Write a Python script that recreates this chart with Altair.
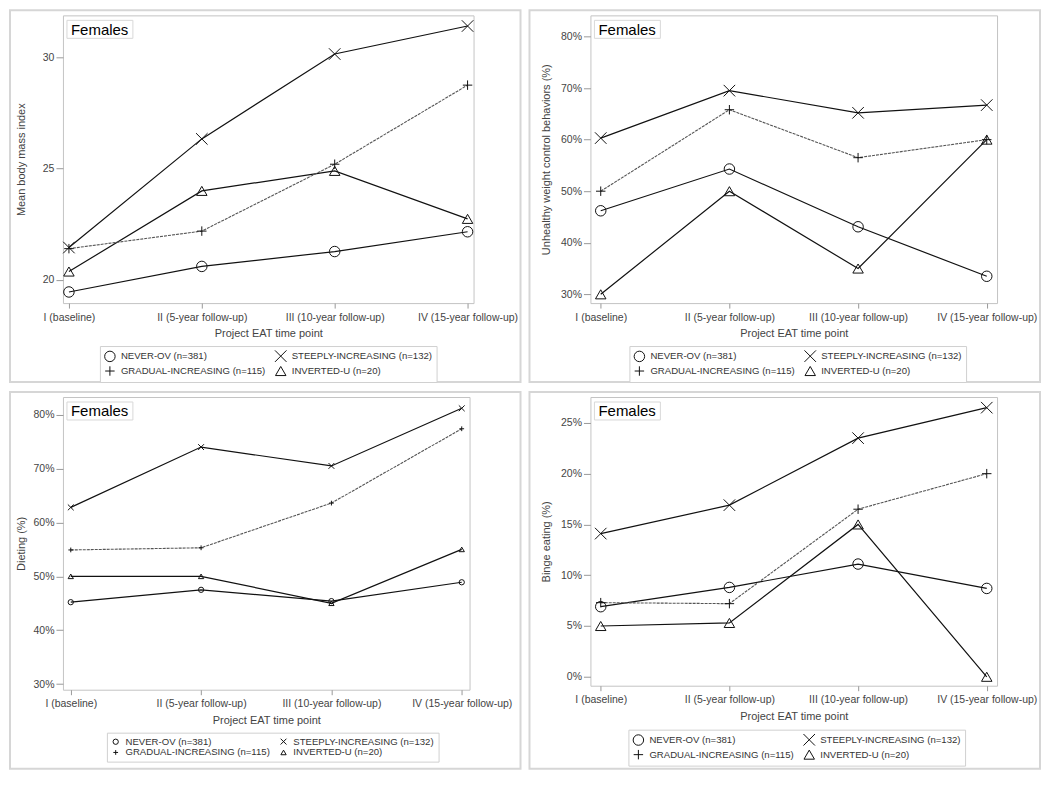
import altair as alt
import pandas as pd

# ---------------- data ----------------
timepoints = ["I (baseline)", "II (5-year follow-up)", "III (10-year follow-up)", "IV (15-year follow-up)"]
groups = ["NEVER-OV (n=381)", "GRADUAL-INCREASING (n=115)", "STEEPLY-INCREASING (n=132)", "INVERTED-U (n=20)"]

bmi_never = [19.45, 20.6, 21.27, 22.16]
bmi_grad = [21.4, 22.19, 25.2, 28.76]
bmi_steep = [21.45, 26.34, 30.16, 31.42]
bmi_invu = [20.37, 24.0, 24.9, 22.74]

uwcb_never = [46.2, 54.3, 43.1, 33.5]
uwcb_grad = [50.0, 65.8, 56.5, 60.0]
uwcb_steep = [60.3, 69.5, 65.2, 66.7]
uwcb_invu = [30.0, 50.0, 35.0, 60.0]

diet_never = [45.2, 47.5, 45.4, 48.9]
diet_grad = [54.9, 55.3, 63.6, 77.4]
diet_steep = [62.8, 74.0, 70.5, 81.2]
diet_invu = [50.0, 50.0, 45.0, 55.0]

binge_never = [6.9, 8.8, 11.1, 8.7]
binge_grad = [7.3, 7.2, 16.5, 20.0]
binge_steep = [14.1, 16.9, 23.5, 26.5]
binge_invu = [5.0, 5.3, 15.0, 0.0]

bmi_ticks = [20, 25, 30]
uwcb_ticks = [30, 40, 50, 60, 70, 80]
diet_ticks = [30, 40, 50, 60, 70, 80]
binge_ticks = [0, 5, 10, 15, 20, 25]

x_title = "Project EAT time point"
panel_label = "Females"

shape_paths = ["circle", "M-0.9,0L0.9,0M0,-0.9L0,0.9",
               "M-1.1,-1.1L1.1,1.1M-1.1,1.1L1.1,-1.1", "triangle-up"]

FONT = "Liberation Sans"
DOTTED_GROUP = groups[1]


def frame(series):
    rows = []
    for g, vals in zip(groups, series):
        for i, (t, v) in enumerate(zip(timepoints, vals)):
            rows.append({"group": g, "time": t, "value": v, "order": i})
    return pd.DataFrame(rows)


def panel(series, ydomain, yticks, ytitle, pct, xpad, w, h, border, legxy, msize, ytp):
    df = frame(series)
    xenc = alt.X("time:N", sort=timepoints,
                 scale=alt.Scale(type="point", padding=xpad),
                 axis=alt.Axis(title=x_title, labelAngle=0, tickSize=5,
                               labelPadding=4, titlePadding=5))
    if pct:
        yaxis = alt.Axis(title=ytitle, values=yticks, tickSize=7, labelPadding=2,
                         titlePadding=ytp, labelExpr="datum.value + '%'")
    else:
        yaxis = alt.Axis(title=ytitle, values=yticks, tickSize=7, labelPadding=2,
                         titlePadding=ytp)
    yenc = alt.Y("value:Q", scale=alt.Scale(domain=ydomain, nice=False, zero=False),
                 axis=yaxis)

    base = alt.Chart(df)
    solid = base.transform_filter(
        alt.datum.group != DOTTED_GROUP
    ).mark_line(color="#111111", strokeWidth=1.2).encode(
        x=xenc, y=yenc, detail="group:N", order="order:Q")
    dotted = base.transform_filter(
        alt.datum.group == DOTTED_GROUP
    ).mark_line(color="#555555", strokeWidth=1.1, strokeDash=[3, 1]).encode(
        x=xenc, y=yenc, order="order:Q")
    pts = base.mark_point(filled=False, color="#111111", strokeWidth=1,
                          size=msize, opacity=1).encode(
        x=xenc, y=yenc,
        shape=alt.Shape("group:N",
                        scale=alt.Scale(domain=groups, range=shape_paths),
                        legend=alt.Legend(title=None, orient="none",
                                          legendX=legxy[0], legendY=legxy[1],
                                          columns=2, strokeColor="#d0d0d0",
                                          fillColor="white", padding=4,
                                          labelFont=FONT, labelFontSize=9.6,
                                          labelColor="#333333",
                                          symbolSize=msize,
                                          symbolStrokeColor="#111111",
                                          symbolFillColor="transparent",
                                          symbolStrokeWidth=1,
                                          rowPadding=0, columnPadding=7,
                                          labelOffset=5, labelLimit=400)))

    one = pd.DataFrame({"k": [0]})
    bx0, bx1, by0, by1 = border
    box = alt.Chart(one).mark_rect(fillOpacity=0, stroke="#d6d6d6", strokeWidth=2).encode(
        x=alt.value(bx0), x2=alt.value(bx1), y=alt.value(by0), y2=alt.value(by1))
    lab_box = alt.Chart(one).mark_rect(fill="white", stroke="#d8d8d8", strokeWidth=1).encode(
        x=alt.value(4), x2=alt.value(70), y=alt.value(5), y2=alt.value(23))
    lab = alt.Chart(one).mark_text(align="left", baseline="middle", font=FONT,
                                   fontSize=15, color="black").encode(
        x=alt.value(8), y=alt.value(14.5), text=alt.value(panel_label))

    return alt.layer(box, solid, dotted, pts, lab_box, lab).properties(width=w, height=h)


p1 = panel([bmi_never, bmi_grad, bmi_steep, bmi_invu], [18.95, 31.9], bmi_ticks,
           "Mean body mass index", False, 0.045, 411, 288,
           (-53, 458, -5, 367), (37, 331), 110, 16)
p2 = panel([uwcb_never, uwcb_grad, uwcb_steep, uwcb_invu], [28.3, 84.1], uwcb_ticks,
           "Unhealthy weight control behaviors (%)", True, 0.08, 407, 288,
           (-61, 450, -5, 367), (39, 331), 110, 9)
p3 = panel([diet_never, diet_grad, diet_steep, diet_invu], [28.95, 83.3], diet_ticks,
           "Dieting (%)", True, 0.06, 407, 293,
           (-53, 458, -5, 372), (44, 336), 28, 6)
p4 = panel([binge_never, binge_grad, binge_steep, binge_invu], [-0.88, 27.55], binge_ticks,
           "Binge eating (%)", True, 0.08, 407, 289,
           (-61, 450, -5, 372), (38, 333), 110, 9)

ind = dict(x="independent", y="independent", shape="independent")
row1 = alt.hconcat(p1, p2, spacing=5).resolve_scale(**ind).resolve_legend(shape="independent")
row2 = alt.hconcat(p3, p4, spacing=5).resolve_scale(**ind).resolve_legend(shape="independent")

chart = alt.vconcat(row1, row2, spacing=6, padding=0).resolve_scale(**ind).resolve_legend(
    shape="independent").properties(background="white").configure(padding=0).configure_view(
    stroke="#c4c4c4", strokeWidth=1).configure_axis(
    grid=False, domain=False, tickColor="#999999",
    labelFont=FONT, labelFontSize=10.5, labelColor="#444444",
    titleFont=FONT, titleFontSize=11, titleFontWeight="normal", titleColor="#444444")

chart.save("out.html", embed_options={"renderer": "svg", "actions": False})
